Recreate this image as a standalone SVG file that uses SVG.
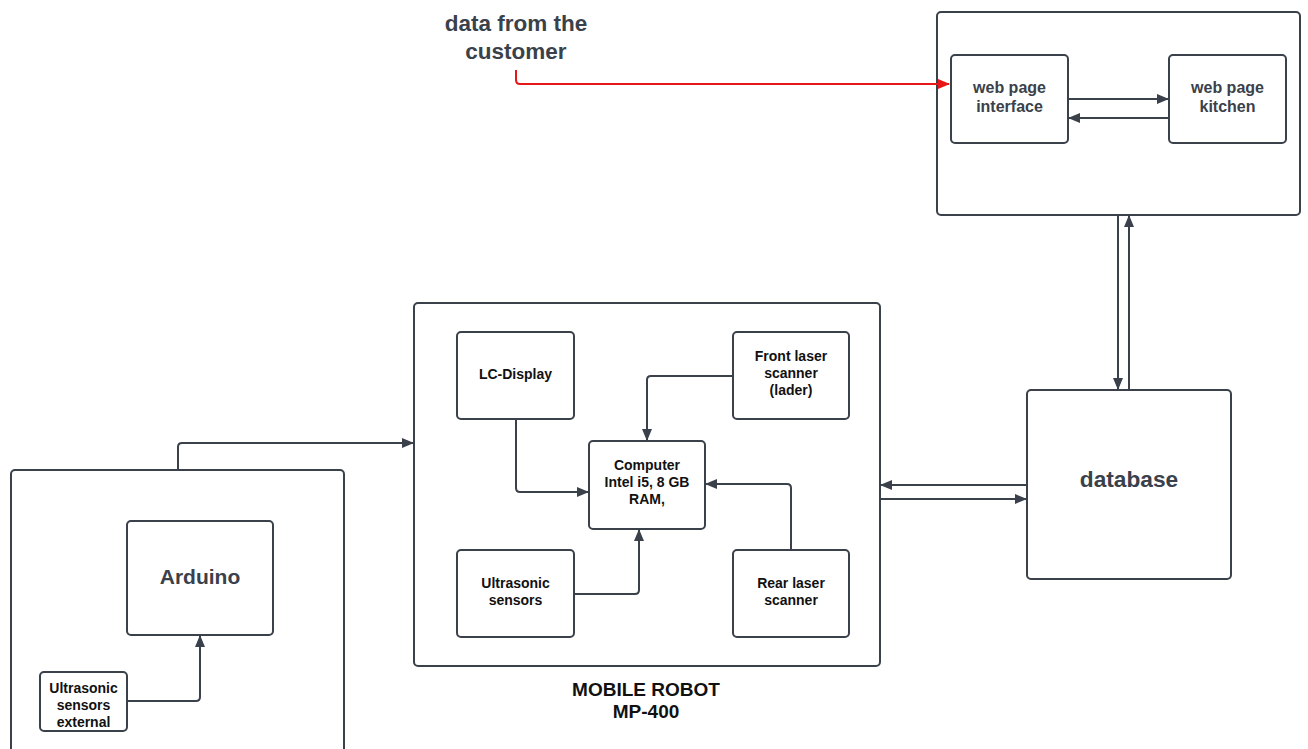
<svg xmlns="http://www.w3.org/2000/svg" width="1308" height="749" viewBox="0 0 1308 749">
  <style>
    .box { fill: #ffffff; stroke: #3a414a; stroke-width: 2; }
    .wire { fill: none; stroke: #3a414a; stroke-width: 2; }
    .red { fill: none; stroke: #e81717; stroke-width: 2; }
    .t { font-family: "Liberation Sans", Arial, sans-serif; font-weight: bold; text-anchor: middle; dominant-baseline: central; }
    .gray { fill: #3a414a; }
    .blk { fill: #111111; }
  </style>
  <defs>
    <marker id="ah" markerUnits="userSpaceOnUse" markerWidth="12" markerHeight="10" refX="11" refY="5" orient="auto">
      <path d="M0,0 L12,5 L0,10 z" fill="#3a414a"/>
    </marker>
    <marker id="ahRed" markerUnits="userSpaceOnUse" markerWidth="12" markerHeight="10" refX="11" refY="5" orient="auto">
      <path d="M0,0 L12,5 L0,10 z" fill="#e81717"/>
    </marker>
  </defs>

  <!-- free label -->
  <g id="customer-label">
    <text class="t gray" x="516" y="23" font-size="22.5">data from the</text>
    <text class="t gray" x="516" y="51" font-size="22.5">customer</text>
  </g>

  <!-- web server container -->
  <g id="web-server">
    <rect class="box" x="937" y="12" width="363" height="203" rx="4"/>
  </g>
  <g id="web-interface">
    <rect class="box" x="951" y="55" width="117" height="88" rx="4"/>
    <text class="t gray" x="1009.5" y="87" font-size="16">web page</text>
    <text class="t gray" x="1009.5" y="106" font-size="16">interface</text>
  </g>
  <g id="web-kitchen">
    <rect class="box" x="1169" y="55" width="117" height="88" rx="4"/>
    <text class="t gray" x="1227.5" y="87" font-size="16">web page</text>
    <text class="t gray" x="1227.5" y="106" font-size="16">kitchen</text>
  </g>

  <!-- database -->
  <g id="database">
    <rect class="box" x="1027" y="390" width="204" height="189" rx="4"/>
    <text class="t gray" x="1129" y="479" font-size="22.7">database</text>
  </g>

  <!-- mobile robot -->
  <g id="mobile-robot">
    <rect class="box" x="414" y="303" width="466" height="363" rx="4"/>
    <text class="t blk" x="646" y="689" font-size="19">MOBILE ROBOT</text>
    <text class="t blk" x="646" y="711" font-size="19">MP-400</text>
  </g>
  <g id="lc-display">
    <rect class="box" x="457" y="332" width="117" height="87" rx="4"/>
    <text class="t blk" x="515.5" y="374" font-size="14">LC-Display</text>
  </g>
  <g id="front-laser">
    <rect class="box" x="733" y="332" width="116" height="87" rx="4"/>
    <text class="t blk" x="791" y="356" font-size="14">Front laser</text>
    <text class="t blk" x="791" y="373" font-size="14">scanner</text>
    <text class="t blk" x="791" y="390" font-size="14">(lader)</text>
  </g>
  <g id="computer">
    <rect class="box" x="589" y="441" width="116" height="88" rx="4"/>
    <text class="t blk" x="647" y="465" font-size="14">Computer</text>
    <text class="t blk" x="647" y="482" font-size="14">Intel i5, 8 GB</text>
    <text class="t blk" x="647" y="499" font-size="14">RAM,</text>
  </g>
  <g id="ultrasonic">
    <rect class="box" x="457" y="550" width="117" height="87" rx="4"/>
    <text class="t blk" x="515.5" y="583" font-size="14">Ultrasonic</text>
    <text class="t blk" x="515.5" y="600" font-size="14">sensors</text>
  </g>
  <g id="rear-laser">
    <rect class="box" x="733" y="550" width="116" height="87" rx="4"/>
    <text class="t blk" x="791" y="583" font-size="14">Rear laser</text>
    <text class="t blk" x="791" y="600" font-size="14">scanner</text>
  </g>

  <!-- arduino unit -->
  <g id="arduino-unit">
    <rect class="box" x="11" y="470" width="333" height="300" rx="4"/>
  </g>
  <g id="arduino">
    <rect class="box" x="127" y="521" width="146" height="114" rx="4"/>
    <text class="t gray" x="200" y="576" font-size="21">Arduino</text>
  </g>
  <g id="ultrasonic-external">
    <rect class="box" x="40" y="672" width="87" height="59" rx="4"/>
    <text class="t blk" x="83.5" y="688" font-size="14">Ultrasonic</text>
    <text class="t blk" x="83.5" y="705" font-size="14">sensors</text>
    <text class="t blk" x="83.5" y="722" font-size="14">external</text>
  </g>

  <!-- connectors -->
  <g id="connectors">
    <path class="red" d="M516,70 V80 Q516,84 520,84 H949" marker-end="url(#ahRed)"/>
    <path class="wire" d="M1068,99 H1168" marker-end="url(#ah)"/>
    <path class="wire" d="M1169,118 H1069" marker-end="url(#ah)"/>
    <path class="wire" d="M1118,215 V389" marker-end="url(#ah)"/>
    <path class="wire" d="M1129,390 V216" marker-end="url(#ah)"/>
    <path class="wire" d="M1027,485 H881" marker-end="url(#ah)"/>
    <path class="wire" d="M880,499 H1026" marker-end="url(#ah)"/>
    <path class="wire" d="M516,419 V488 Q516,492 520,492 H588" marker-end="url(#ah)"/>
    <path class="wire" d="M733,376 H651 Q647,376 647,380 V440" marker-end="url(#ah)"/>
    <path class="wire" d="M791,550 V488 Q791,484 787,484 H706" marker-end="url(#ah)"/>
    <path class="wire" d="M574,594 H635 Q639,594 639,590 V530" marker-end="url(#ah)"/>
    <path class="wire" d="M178,470 V447 Q178,443 182,443 H413" marker-end="url(#ah)"/>
    <path class="wire" d="M127,701 H196 Q200,701 200,697 V636" marker-end="url(#ah)"/>
  </g>
</svg>
